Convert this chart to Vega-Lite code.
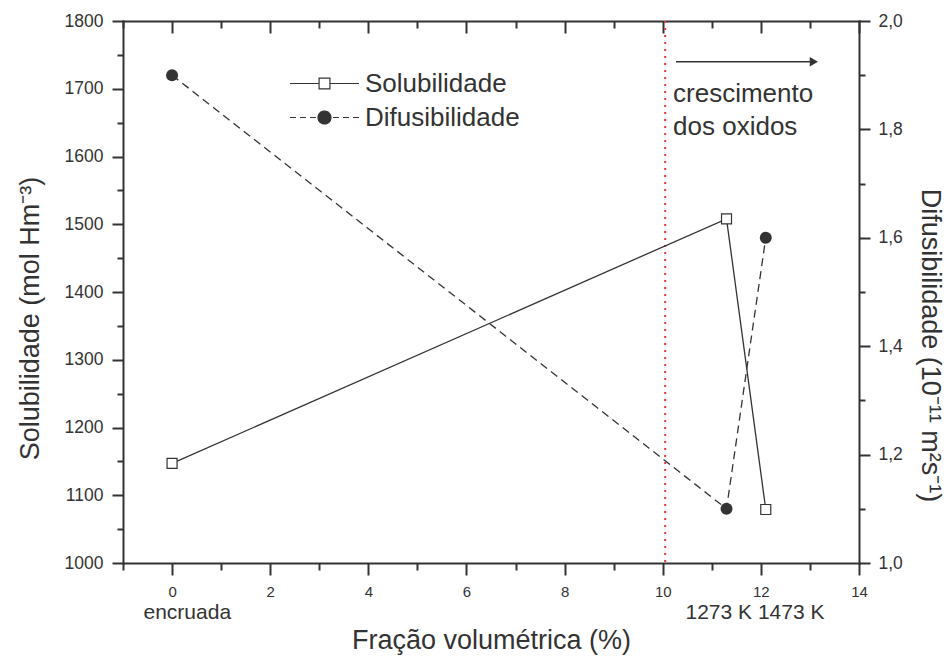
{
  "$schema": "https://vega.github.io/schema/vega-lite/v6.json",
  "width": 736,
  "height": 542,
  "autosize": "none",
  "padding": {"left": 123, "top": 21, "right": 93, "bottom": 94},
  "background": "white",
  "config": {
    "view": {"stroke": null},
    "font": "Liberation Sans",
    "axis": {
      "grid": false,
      "domainColor": "#333333",
      "domainWidth": 2,
      "domainCap": "square",
      "tickColor": "#333333",
      "tickWidth": 2,
      "labelColor": "#333333",
      "titleColor": "#333333",
      "labelFont": "Liberation Sans",
      "titleFont": "Liberation Sans",
      "titleFontWeight": "normal",
      "labelFlush": false,
      "labelOverlap": false
    },
    "legend": {
      "orient": "none",
      "title": null,
      "padding": 0,
      "rowPadding": 2,
      "symbolSize": 1225,
      "labelOffset": 22,
      "labelFontSize": 26,
      "labelFont": "Liberation Sans",
      "labelColor": "#333333",
      "labelLimit": 400,
      "symbolStrokeWidth": 1.2,
      "symbolOpacity": 1,
      "symbolDash": [1, 0]
    }
  },
  "datasets": {
    "sol": [
      {"x": 0, "y": 1147, "serie": "Solubilidade"},
      {"x": 11.3, "y": 1508, "serie": "Solubilidade"},
      {"x": 12.1, "y": 1079, "serie": "Solubilidade"}
    ],
    "dif": [
      {"x": 0, "y": 1.9, "serie": "Difusibilidade"},
      {"x": 11.3, "y": 1.1, "serie": "Difusibilidade"},
      {"x": 12.1, "y": 1.6, "serie": "Difusibilidade"}
    ],
    "legenda": [
      {"x": 0, "y": 1147, "serie": "Solubilidade"},
      {"x": 0, "y": 1147, "serie": "Difusibilidade"}
    ]
  },
  "layer": [
    {
      "data": {"values": [{"x": 10.05}]},
      "mark": {"type": "rule", "color": "#e53935", "strokeDash": [2, 5], "strokeWidth": 2},
      "encoding": {
        "x": {"field": "x", "type": "quantitative", "scale": {"domain": [-1, 14], "nice": false, "zero": false}, "axis": null}
      }
    },
    {
      "data": {"name": "sol"},
      "mark": {"type": "line", "color": "#333333", "strokeWidth": 1.3,
        "point": {"shape": "square", "filled": true, "fill": "#ffffff", "stroke": "#333333", "strokeWidth": 1.2, "size": 100, "opacity": 1}},
      "encoding": {
        "x": {"field": "x", "type": "quantitative", "scale": {"domain": [-1, 14], "nice": false, "zero": false},
          "axis": {"orient": "bottom", "values": [0, 2, 4, 6, 8, 10, 12, 14], "tickSize": 12, "labelFontSize": 15, "labelPadding": 9,
            "title": "Fração volumétrica (%)", "titleFontSize": 27, "titleX": 368, "titleY": 85, "titleBaseline": "alphabetic", "titleAlign": "center"}},
        "y": {"field": "y", "type": "quantitative", "scale": {"domain": [1000, 1800], "nice": false, "zero": false},
          "axis": {"orient": "left", "values": [1000, 1100, 1200, 1300, 1400, 1500, 1600, 1700, 1800], "format": "d", "tickSize": 11, "labelFontSize": 17.5, "labelPadding": 9,
            "title": "Solubilidade (mol Hm⁻³)", "titleFontSize": 27, "titleAngle": -90, "titleX": -85, "titleY": 297, "titleBaseline": "alphabetic", "titleAlign": "center"}}
      }
    },
    {
      "data": {"name": "dif"},
      "mark": {"type": "line", "color": "#333333", "strokeWidth": 1.3, "strokeDash": [8, 5],
        "point": {"shape": "circle", "filled": true, "color": "#333333", "size": 144, "strokeDash": [1, 0]}},
      "encoding": {
        "x": {"field": "x", "type": "quantitative", "scale": {"domain": [-1, 14], "nice": false, "zero": false},
          "axis": {"orient": "top", "values": [0, 2, 4, 6, 8, 10, 12, 14], "tickSize": -12, "labels": false, "title": null}},
        "y": {"field": "y", "type": "quantitative", "scale": {"domain": [1, 2], "nice": false, "zero": false},
          "axis": {"orient": "right", "values": [1, 1.2, 1.4, 1.6, 1.8, 2], "tickSize": 11, "labelFontSize": 17.5, "labelPadding": 8,
            "labelExpr": "replace(format(datum.value, '.1f'), '.', ',')",
            "title": "Difusibilidade (10⁻¹¹ m²s⁻¹)", "titleFontSize": 27, "titleAngle": 90, "titleX": 62, "titleY": 324, "titleBaseline": "alphabetic", "titleAlign": "center"}}
      }
    },
    {
      "data": {"name": "legenda"},
      "mark": {"type": "point", "opacity": 0, "strokeWidth": 1.2},
      "encoding": {
        "x": {"field": "x", "type": "quantitative", "scale": {"domain": [-1, 14], "nice": false, "zero": false},
          "axis": {"orient": "bottom", "values": [-1, 1, 3, 5, 7, 9, 11, 13], "tickSize": 7, "labels": false, "domain": false, "title": null}},
        "y": {"field": "y", "type": "quantitative", "scale": {"domain": [1000, 1800], "nice": false, "zero": false},
          "axis": {"orient": "left", "values": [1050, 1150, 1250, 1350, 1450, 1550, 1650, 1750], "tickSize": 6, "labels": false, "domain": false, "title": null}},
        "shape": {"field": "serie", "type": "nominal",
          "scale": {"domain": ["Solubilidade", "Difusibilidade"],
            "range": ["M-1.97,0H-0.31M0.31,0H1.97M-0.31,-0.31H0.31V0.31H-0.31Z", "M-1.97,0H-1.63M-1.4,0H-1.06M-0.83,0H-0.49M0.49,0H0.83M1.06,0H1.4M1.63,0H1.97M0.37,0A0.37,0.37,0,1,1,-0.37,0A0.37,0.37,0,1,1,0.37,0Z"]},
          "legend": {"legendX": 183, "legendY": 44}},
        "fill": {"field": "serie", "type": "nominal",
          "scale": {"domain": ["Solubilidade", "Difusibilidade"], "range": ["#ffffff", "#333333"]},
          "legend": {"legendX": 183, "legendY": 44}},
        "stroke": {"field": "serie", "type": "nominal",
          "scale": {"domain": ["Solubilidade", "Difusibilidade"], "range": ["#333333", "#333333"]},
          "legend": {"legendX": 183, "legendY": 44}}
      }
    },
    {
      "data": {"name": "dif"},
      "mark": {"type": "point", "opacity": 0},
      "encoding": {
        "x": {"field": "x", "type": "quantitative", "scale": {"domain": [-1, 14], "nice": false, "zero": false},
          "axis": {"orient": "top", "values": [-1, 1, 3, 5, 7, 9, 11, 13], "tickSize": -7, "labels": false, "domain": false, "title": null}},
        "y": {"field": "y", "type": "quantitative", "scale": {"domain": [1, 2], "nice": false, "zero": false},
          "axis": {"orient": "right", "values": [1.1, 1.3, 1.5, 1.7, 1.9], "tickSize": 6, "labels": false, "domain": false, "title": null}}
      }
    },
    {
      "data": {"values": [{"x": 10.27, "x2": 13.0, "y": 1740}]},
      "mark": {"type": "rule", "color": "#333333", "strokeWidth": 1.5},
      "encoding": {
        "x": {"field": "x", "type": "quantitative", "scale": {"domain": [-1, 14], "nice": false, "zero": false}, "axis": null},
        "x2": {"field": "x2"},
        "y": {"field": "y", "type": "quantitative", "scale": {"domain": [1000, 1800], "nice": false, "zero": false}, "axis": null}
      }
    },
    {
      "data": {"values": [{"x": 13.08, "y": 1740}]},
      "mark": {"type": "point", "shape": "triangle-right", "filled": true, "color": "#333333", "size": 90, "opacity": 1},
      "encoding": {
        "x": {"field": "x", "type": "quantitative", "scale": {"domain": [-1, 14], "nice": false, "zero": false}, "axis": null},
        "y": {"field": "y", "type": "quantitative", "scale": {"domain": [1000, 1800], "nice": false, "zero": false}, "axis": null}
      }
    },
    {
      "data": {"values": [{"t": "crescimento", "x": 10.21, "y": 1680}, {"t": "dos oxidos", "x": 10.21, "y": 1632}]},
      "mark": {"type": "text", "align": "left", "baseline": "alphabetic", "fontSize": 26, "color": "#333333", "font": "Liberation Sans"},
      "encoding": {
        "x": {"field": "x", "type": "quantitative", "scale": {"domain": [-1, 14], "nice": false, "zero": false}, "axis": null},
        "y": {"field": "y", "type": "quantitative", "scale": {"domain": [1000, 1800], "nice": false, "zero": false}, "axis": null},
        "text": {"field": "t"}
      }
    },
    {
      "data": {"values": [{"t": "encruada", "x": 0.31, "y": 918}, {"t": "1273 K 1473 K", "x": 11.88, "y": 918}]},
      "mark": {"type": "text", "align": "center", "baseline": "alphabetic", "fontSize": 21, "color": "#333333", "font": "Liberation Sans"},
      "encoding": {
        "x": {"field": "x", "type": "quantitative", "scale": {"domain": [-1, 14], "nice": false, "zero": false}, "axis": null},
        "y": {"field": "y", "type": "quantitative", "scale": {"domain": [1000, 1800], "nice": false, "zero": false}, "axis": null},
        "text": {"field": "t"}
      }
    }
  ],
  "resolve": {
    "scale": {"x": "independent", "y": "independent"},
    "axis": {"x": "independent", "y": "independent"}
  }
}
